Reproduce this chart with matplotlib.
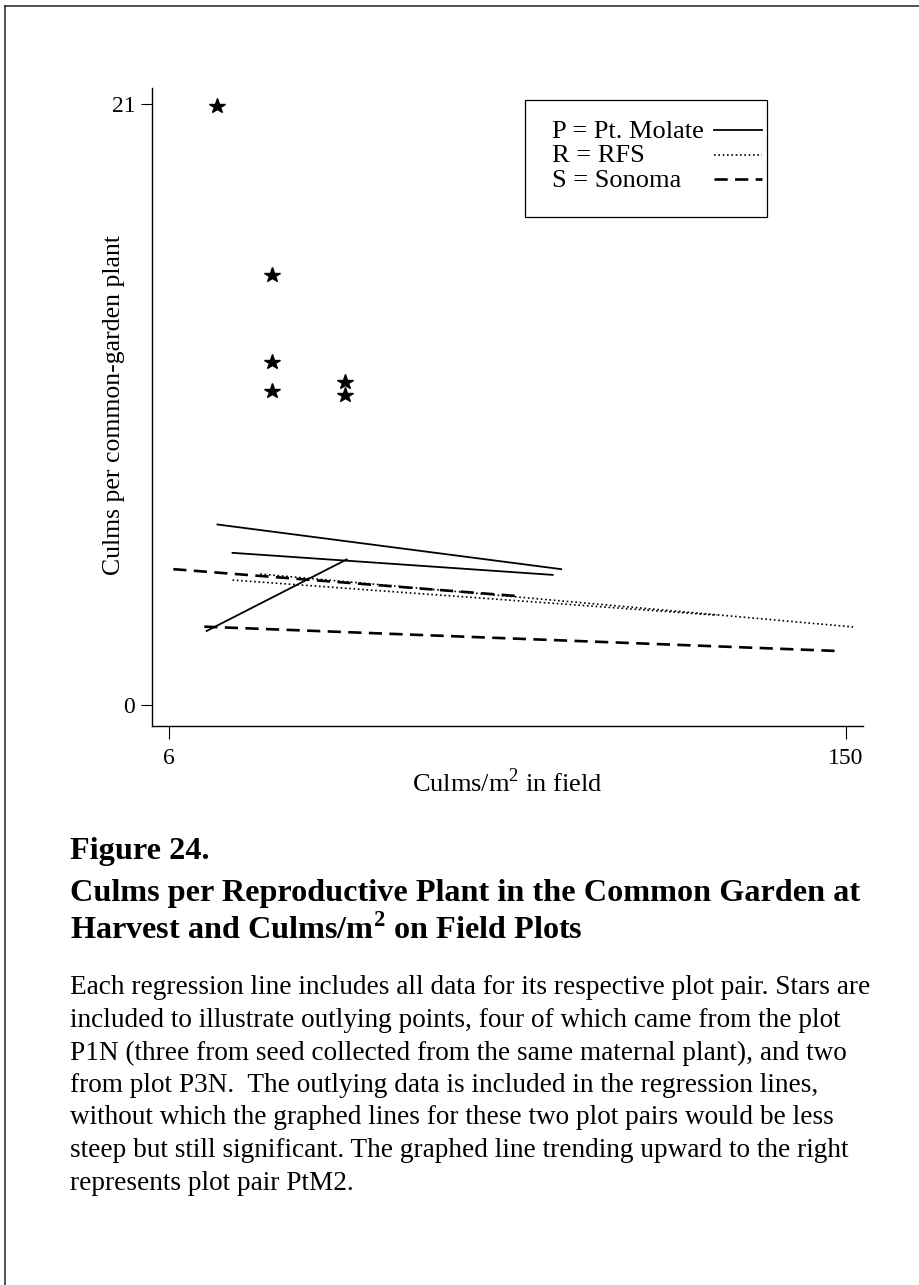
import matplotlib
matplotlib.use('Agg')
import matplotlib.pyplot as plt
from matplotlib.lines import Line2D
from matplotlib.patches import Rectangle

plt.rcParams['font.family'] = ['Liberation Serif', 'DejaVu Serif']
plt.rcParams['mathtext.fontset'] = 'custom'
plt.rcParams['mathtext.rm'] = 'Liberation Serif'
plt.rcParams['mathtext.bf'] = 'Liberation Serif:bold'

W, H = 920, 1285

# outlying points (stars)
star_x = [16.1, 27.9, 27.9, 27.9, 43.5, 43.5]
star_y = [20.93, 15.02, 12.0, 10.97, 11.29, 10.83]

# regression lines per plot pair: [x_start, x_end], [y_start, y_end]
molate_x = [[16.3, 89.4], [19.5, 87.6], [14.0, 43.8]]
molate_y = [[6.31, 4.75], [5.32, 4.55], [2.59, 5.09]]
rfs_x = [[25.4, 151.5], [19.5, 122.6]]
rfs_y = [[4.58, 2.73], [4.37, 3.14]]
sonoma_x = [[6.9, 80.0], [13.5, 148.3]]
sonoma_y = [[4.75, 3.81], [2.74, 1.89]]

x_ticks = [6, 150]
y_ticks = [0, 21]
legend_labels = ['P = Pt. Molate', 'R = RFS', 'S = Sonoma']

caption_head = 'Figure 24.'
caption_title = ['Culms per Reproductive Plant in the Common Garden at',
                 r'Harvest and Culms/m$^\mathbf{2}$ on Field Plots']
caption_body = [
    'Each regression line includes all data for its respective plot pair. Stars are',
    'included to illustrate outlying points, four of which came from the plot',
    'P1N (three from seed collected from the same maternal plant), and two',
    'from plot P3N.  The outlying data is included in the regression lines,',
    'without which the graphed lines for these two plot pairs would be less',
    'steep but still significant. The graphed line trending upward to the right',
    'represents plot pair PtM2.',
]

solid = dict(color='black', lw=1.3, linestyle='-')
dotted = dict(color='black', lw=1.2, linestyle=(0, (1.0, 1.6)))
dashed = dict(color='black', lw=1.9, linestyle=(0, (5.0, 2.8)))


def fx(px):
    return px / W


def fy(py):
    return 1 - py / H


fig = plt.figure(figsize=(W / 100, H / 100), dpi=100)
ax = fig.add_axes([fx(152), fy(726), (863 - 152) / W, (726 - 88) / H])

for xs, ys in zip(molate_x, molate_y):
    ax.plot(xs, ys, **solid)
for xs, ys in zip(rfs_x, rfs_y):
    ax.plot(xs, ys, **dotted)
for xs, ys in zip(sonoma_x, sonoma_y):
    ax.plot(xs, ys, **dashed)

ax.plot(star_x, star_y, linestyle='none', marker='*', color='black',
        markersize=11.5)

ax.set_xlim(2.38, 153.6)
ax.set_ylim(-0.73, 21.56)
ax.set_xticks(x_ticks)
ax.set_yticks(y_ticks)
ax.spines['top'].set_visible(False)
ax.spines['right'].set_visible(False)
for s in ('left', 'bottom'):
    ax.spines[s].set_linewidth(1.0)
ax.tick_params(axis='y', length=8, width=0.8, pad=4, labelsize=17)
ax.tick_params(axis='x', length=9.5, width=0.8, pad=6, labelsize=17)

ax.set_xlabel(r'Culms/m$^2$ in field', fontsize=19, labelpad=0)
ax.set_ylabel('Culms per common-garden plant', fontsize=18.5, va='center')
ax.yaxis.set_label_coords(fx(114), fy(405), transform=fig.transFigure)

# legend box drawn by hand: labels left, line samples right
fig.add_artist(Rectangle((fx(525), fy(217)), (767 - 525) / W, (217 - 100) / H,
                         transform=fig.transFigure, fill=False,
                         edgecolor='black', lw=0.9))
for i, (lab, style) in enumerate(zip(legend_labels, [solid, dotted, dashed])):
    yc = 132 + i * 24.5
    fig.text(fx(552), fy(yc), lab, fontsize=19, va='center', ha='left')
    fig.add_artist(Line2D([fx(714), fx(762)], [fy(yc - 2), fy(yc - 2)],
                          transform=fig.transFigure, **style))

# page frame (left and top edges)
fig.add_artist(Line2D([fx(5), fx(5)], [fy(H), fy(6)], transform=fig.transFigure,
                      color='#222222', lw=1.1))
fig.add_artist(Line2D([fx(5), fx(W)], [fy(6), fy(6)], transform=fig.transFigure,
                      color='#222222', lw=1.1))

fig.text(fx(70), fy(852), caption_head, fontsize=23.2, fontweight='bold',
         va='center')
for i, line in enumerate(caption_title):
    fig.text(fx(70), fy(893 + i * 37), line, fontsize=23.2, fontweight='bold',
             va='center')
for i, line in enumerate(caption_body):
    fig.text(fx(70), fy(988 + i * 32.5), line, fontsize=19.6, va='center')

fig.savefig('out.png', dpi=100)
